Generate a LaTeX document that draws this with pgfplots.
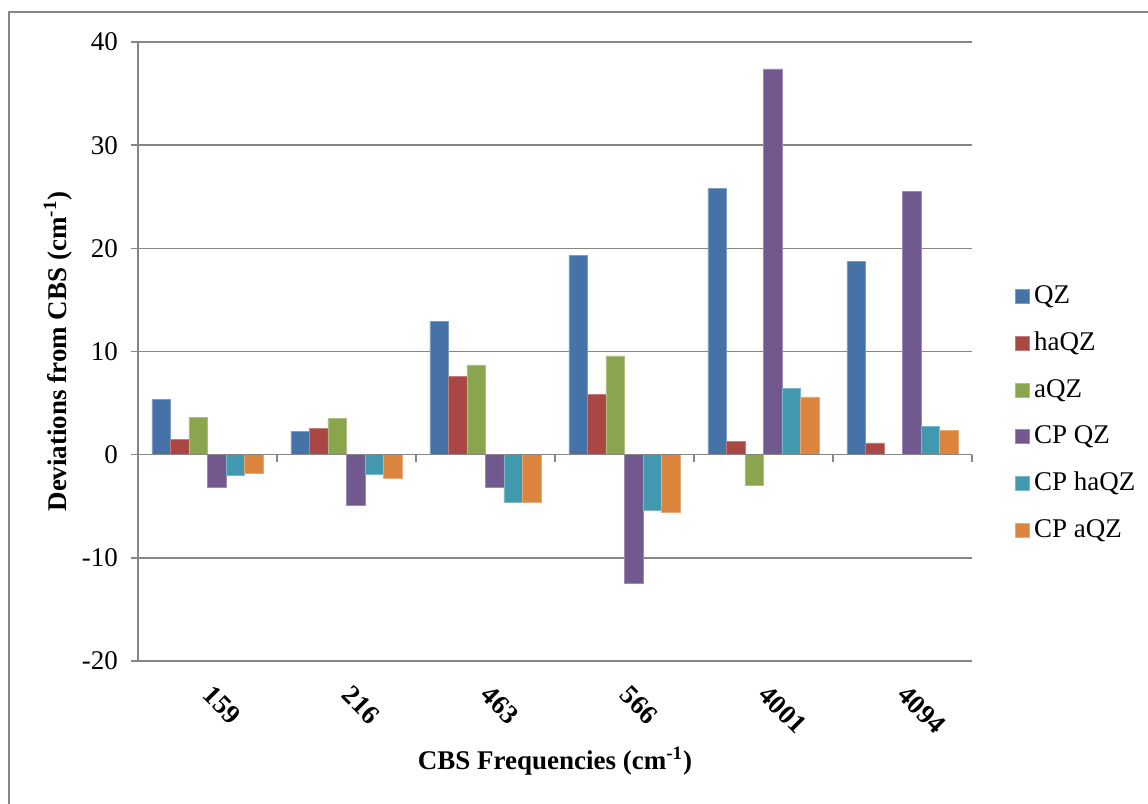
\documentclass[border=0pt]{standalone}
\usepackage{pgfplots}
\pgfplotsset{compat=1.18}
\usepackage{fontspec}
\setmainfont{Liberation Serif}
\definecolor{cQZ}{HTML}{4572A7}
\definecolor{chaQZ}{HTML}{AA4643}
\definecolor{caQZ}{HTML}{89A54E}
\definecolor{cCPQZ}{HTML}{71588F}
\definecolor{cCPhaQZ}{HTML}{4198AF}
\definecolor{cCPaQZ}{HTML}{DB843D}
\definecolor{gridgray}{HTML}{868686}
\begin{document}
\begin{tikzpicture}
\useasboundingbox (0,0) rectangle (574pt,-402pt);
\fill[white] (0,0) rectangle (574pt,-402pt);
\draw[gridgray, line width=0.6pt] (4.5pt,-402pt) |- (574pt,-6pt);
\begin{axis}[
  at={(69pt,-330.5pt)}, anchor=south west,
  scale only axis, width=417pt, height=309.5pt,
  ybar=0pt, bar width=9.25pt,
  xmin=-0.5, xmax=5.5, ymin=-20, ymax=40,
  xtick={0,1,2,3,4,5},
  xticklabels={159,216,463,566,4001,4094},
  ytick={-20,-10,0,10,20,30,40},
  yticklabels={-20,-10,0,10,20,30,40},
  axis x line*=bottom, axis y line*=left,
  x axis line style={draw=none},
  y axis line style={gridgray, line width=0.75pt},
  xtick style={draw=none},
  ytick style={gridgray, line width=0.75pt},
  tick align=outside, major tick length=3.5pt,
  ymajorgrids, grid style={gridgray, line width=0.75pt},
  yticklabel style={font=\fontsize{13.5}{15}\selectfont, xshift=-3pt},
  xticklabel style={font=\fontsize{13.5}{15}\selectfont\bfseries, rotate=-45, anchor=north west, inner sep=0pt, xshift=7.9pt, yshift=-3.2pt},
  xlabel={CBS Frequencies (cm\textsuperscript{-1})},
  ylabel={Deviations from CBS (cm\textsuperscript{-1})},
  xlabel style={font=\fontsize{13.5}{15}\selectfont\bfseries, at={(axis description cs:0.5,-0.1615)}, anchor=center},
  ylabel style={font=\fontsize{13.5}{15}\selectfont\bfseries, at={(axis description cs:-0.0959,0.5)}, anchor=center},
  legend style={draw=none, fill=none, font=\fontsize{13.5}{15}\selectfont,
    at={(axis description cs:1.0516,0.4006)}, anchor=west, inner sep=0pt,
    row sep=8.75pt, legend cell align=left},
  legend image code/.code={\fill[#1] (0pt,-3.5pt) rectangle (7pt,3.5pt);},
  clip=false,
]
\addplot[fill=cQZ, draw=cQZ!70!white, line width=0.3pt] coordinates {(0,5.35) (1,2.26) (2,12.9) (3,19.3) (4,25.8) (5,18.7)};
\addplot[fill=chaQZ, draw=chaQZ!70!white, line width=0.3pt] coordinates {(0,1.48) (1,2.52) (2,7.61) (3,5.88) (4,1.25) (5,1.14)};
\addplot[fill=caQZ, draw=caQZ!70!white, line width=0.3pt] coordinates {(0,3.64) (1,3.48) (2,8.71) (3,9.58) (4,-3.0)};
\addplot[fill=cCPQZ, draw=cCPQZ!70!white, line width=0.3pt] coordinates {(0,-3.14) (1,-4.9) (2,-3.19) (3,-12.46) (4,37.4) (5,25.5)};
\addplot[fill=cCPhaQZ, draw=cCPhaQZ!70!white, line width=0.3pt] coordinates {(0,-1.97) (1,-1.94) (2,-4.65) (3,-5.43) (4,6.4) (5,2.77)};
\addplot[fill=cCPaQZ, draw=cCPaQZ!70!white, line width=0.3pt] coordinates {(0,-1.84) (1,-2.29) (2,-4.65) (3,-5.6) (4,5.6) (5,2.35)};
\legend{QZ,haQZ,aQZ,CP QZ,CP haQZ,CP aQZ}
\draw[gridgray, line width=0.75pt] (axis cs:-0.5,0) -- (axis cs:5.5,0);
\pgfplotsinvokeforeach{-0.5,0.5,1.5,2.5,3.5,4.5,5.5}{
  \draw[gridgray, line width=0.75pt] (axis cs:#1,0) -- ++(0pt,-3.5pt);
}
\end{axis}
\end{tikzpicture}
\end{document}
